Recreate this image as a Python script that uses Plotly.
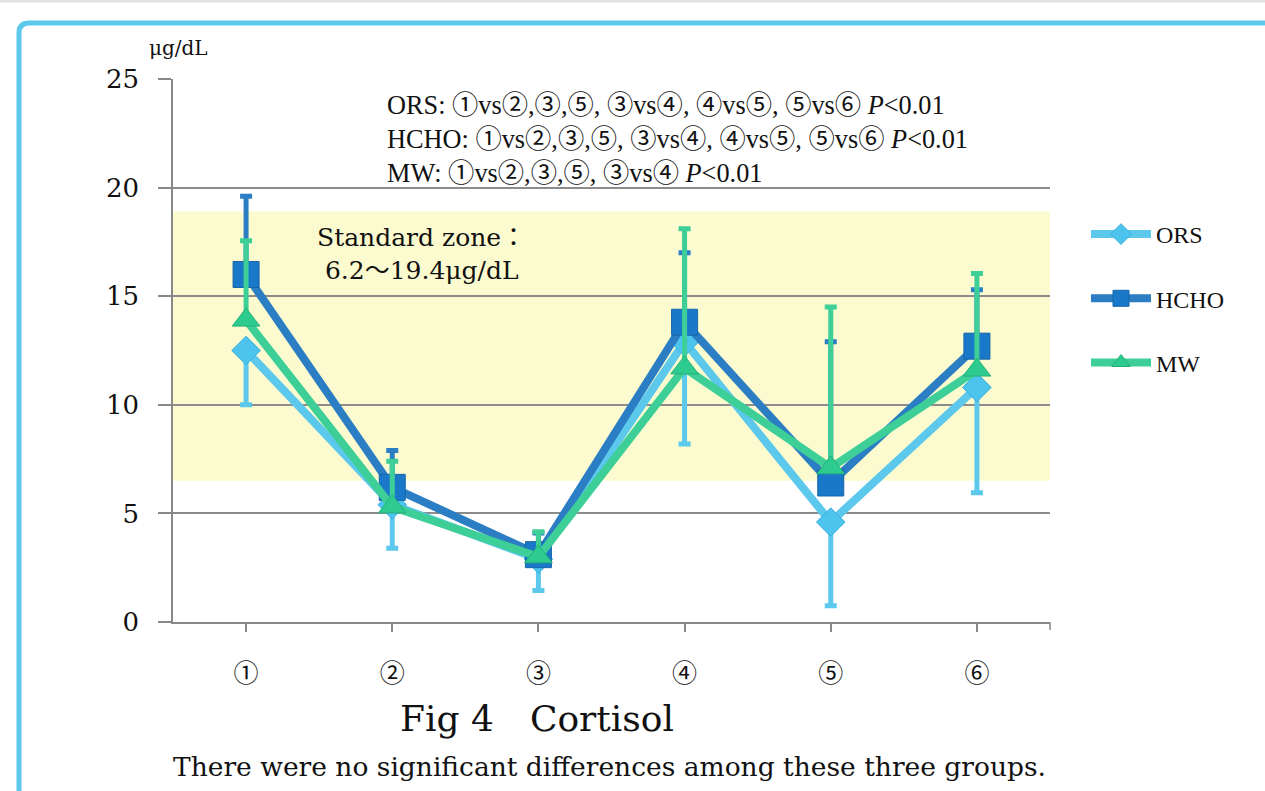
import plotly.graph_objects as go

# ---- data ----
categories = ["①", "②", "③", "④", "⑤", "⑥"]
ors = [12.5, 5.4, 2.9, 12.9, 4.6, 10.8]
ors_sd = [2.5, 2.0, 1.45, 4.7, 3.85, 4.85]
hcho = [16.0, 6.2, 3.1, 13.8, 6.4, 12.7]
hcho_sd = [3.6, 1.7, 1.0, 3.2, 6.5, 2.6]
mw = [13.9, 5.3, 3.0, 11.7, 7.1, 11.6]
mw_sd = [3.65, 2.1, 1.15, 6.4, 7.4, 4.45]
zone_low, zone_high = 6.5, 18.9
y_ticks = [0, 5, 10, 15, 20, 25]

W, H = 1265, 791
L, R, T, B = 173, 1050, 79, 622


def px(x):
    return (x - L) / (R - L)


def py(y):
    return (B - y) / (B - T)


SERIF = "Liberation Serif, Noto Sans CJK JP, serif"
DSERIF = "DejaVu Serif, Noto Sans CJK JP, serif"
CJK = "Noto Sans CJK JP, DejaVu Sans, sans-serif"
C_ORS, C_HCHO, C_MW = "#5BC8EC", "#2B7EC3", "#3DCF97"

fig = go.Figure()
zeros = [0] * len(categories)

fig.add_trace(go.Scatter(
    x=categories, y=ors, name="ORS", legendgroup="a", mode="lines+markers",
    line=dict(color=C_ORS, width=8),
    marker=dict(symbol="diamond", size=22, color="#4CC4EE", line=dict(color="#3BB0DC", width=1)),
    error_y=dict(type="data", symmetric=False, array=zeros, arrayminus=ors_sd,
                 color=C_ORS, thickness=5, width=6),
))
fig.add_trace(go.Scatter(
    x=categories, y=hcho, name="HCHO", legendgroup="b", mode="lines+markers",
    line=dict(color=C_HCHO, width=8),
    marker=dict(symbol="square", size=26, color="#1A78C9", line=dict(color="#1565A8", width=1)),
    error_y=dict(type="data", symmetric=False, array=hcho_sd, arrayminus=zeros,
                 color=C_HCHO, thickness=5, width=6),
))
fig.add_trace(go.Scatter(
    x=categories, y=mw, name="MW", legendgroup="c", mode="lines+markers",
    line=dict(color=C_MW, width=8),
    marker=dict(symbol="triangle-up", size=24, color="#2DCB8E", line=dict(color="#25B07A", width=1)),
    error_y=dict(type="data", symmetric=False, array=mw_sd, arrayminus=zeros,
                 color=C_MW, thickness=5, width=6),
))

shapes = [
    # standard zone band
    dict(type="rect", xref="paper", yref="y", x0=0, x1=1, y0=zone_low, y1=zone_high,
         fillcolor="#FCFBCF", line=dict(width=0), layer="below"),
    # outer light blue border with rounded corner
    dict(type="path", xref="paper", yref="paper",
         path=(f"M {px(19)},{py(800)} L {px(19)},{py(33)} "
               f"Q {px(19)},{py(23)} {px(29)},{py(23)} L {px(1300)},{py(23)}"),
         line=dict(color="#5BC8EC", width=5)),
    # faint top shadow line
    dict(type="line", xref="paper", yref="paper", x0=px(0), x1=px(1265), y0=py(1), y1=py(1),
         line=dict(color="#E2E2E2", width=3)),
    # axis end tick
    dict(type="line", xref="paper", yref="paper", x0=1, x1=1, y0=0, y1=py(630),
         line=dict(color="#888888", width=1.5)),
]

annotations = [
    dict(x=px(147), y=py(48), xref="paper", yref="paper", xanchor="left", yanchor="middle",
         text="μg/dL", showarrow=False, font=dict(family=DSERIF, size=20, color="#111")),
    dict(x=px(385), y=py(139), xref="paper", yref="paper", xanchor="left", yanchor="middle",
         align="left", showarrow=False, font=dict(family=SERIF, size=26.3, color="#111"),
         text=("ORS: ①vs②,③,⑤, ③vs④, ④vs⑤, ⑤vs⑥ <i>P</i>&lt;0.01<br>"
               "HCHO: ①vs②,③,⑤, ③vs④, ④vs⑤, ⑤vs⑥ <i>P</i>&lt;0.01<br>"
               "MW: ①vs②,③,⑤, ③vs④ <i>P</i>&lt;0.01")),
    dict(x=px(315), y=py(254), xref="paper", yref="paper", xanchor="left", yanchor="middle",
         align="left", showarrow=False, font=dict(family=DSERIF, size=25, color="#111"),
         text="Standard zone：<br> 6.2～19.4μg/dL"),
    dict(x=px(537), y=py(718), xref="paper", yref="paper", xanchor="center", yanchor="middle",
         showarrow=False, font=dict(family=DSERIF, size=36, color="#111"),
         text="Fig 4　Cortisol"),
    dict(x=px(609), y=py(766), xref="paper", yref="paper", xanchor="center", yanchor="middle",
         showarrow=False, font=dict(family=DSERIF, size=26.5, color="#111"),
         text="There were no significant differences among these three groups."),
]

fig.update_layout(
    width=W, height=H,
    margin=dict(l=L, r=W - R, t=T, b=H - B, pad=0),
    paper_bgcolor="white", plot_bgcolor="white",
    showlegend=True,
    legend=dict(x=px(1086), y=py(212), xanchor="left", yanchor="top",
                traceorder="grouped", tracegroupgap=30,
                font=dict(family=SERIF, size=24, color="#111"),
                bgcolor="rgba(0,0,0,0)", itemwidth=60),
    shapes=shapes,
    annotations=annotations,
    xaxis=dict(type="category", range=[-0.5, 5.5], showgrid=False,
               showline=True, linecolor="#888888", linewidth=1.5,
               ticks="outside", ticklen=8, tickcolor="#888888", tickwidth=1.5,
               tickfont=dict(family=CJK, size=25, color="#111"),
               ticklabelstandoff=20, fixedrange=True),
    yaxis=dict(range=[0, 25], tickvals=y_ticks, showgrid=True, gridcolor="#8C8C8C", gridwidth=1.5,
               showline=True, linecolor="#888888", linewidth=1.5,
               ticks="outside", ticklen=13, tickcolor="#888888", tickwidth=1.5,
               tickfont=dict(family="DejaVu Serif, serif", size=26, color="#111"),
               ticklabelstandoff=14, zeroline=False, fixedrange=True),
)

fig.write_html("out.html")
